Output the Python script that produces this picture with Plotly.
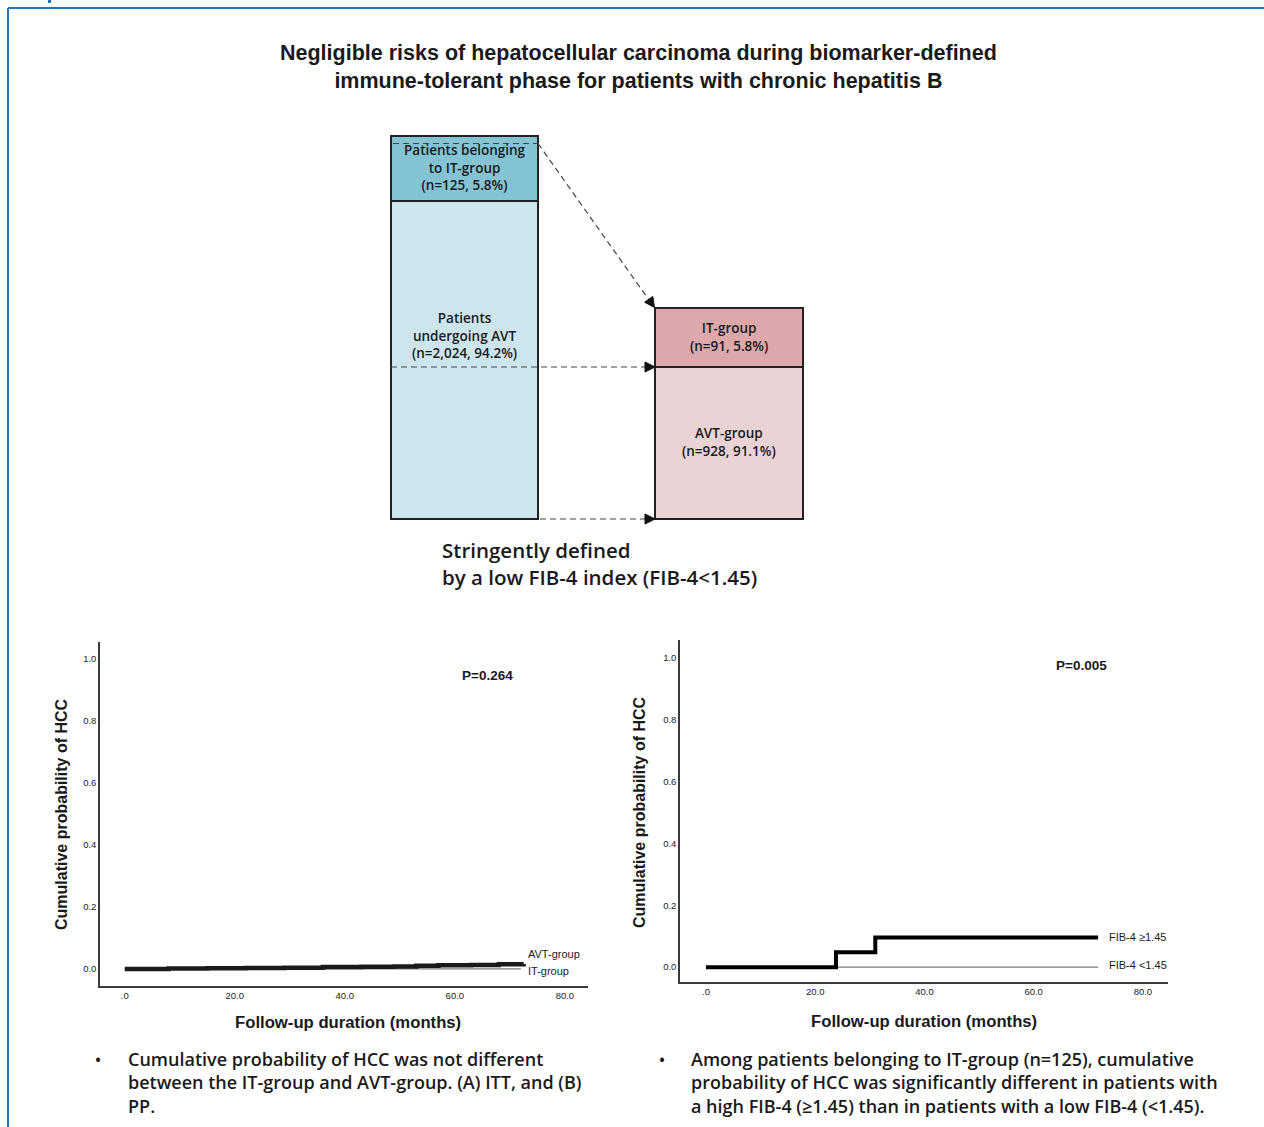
import plotly.graph_objects as go

W, H = 1264, 1127

# ---------------- text content ----------------
title_lines = [
    "Negligible risks of hepatocellular carcinoma during biomarker-defined",
    "immune-tolerant phase for patients with chronic hepatitis B",
]
subtitle_lines = ["Stringently defined", "by a low FIB-4 index (FIB-4<1.45)"]

# whole cohort split (left column) and the FIB-4 restricted split (right column)
cohort_labels = ["Patients belonging<br>to IT-group", "Patients<br>undergoing AVT"]
cohort_n = ["125", "2,024"]
cohort_pct = [5.8, 94.2]
fib4_labels = ["IT-group", "AVT-group"]
fib4_n = ["91", "928"]
fib4_pct = [5.8, 91.1]

# ---------------- Kaplan-Meier data ----------------
itt_months_avt = [0, 8, 15, 22, 29, 36, 43, 49, 53, 57, 63, 68, 72.5]
itt_cum_avt = [0.0, 0.001, 0.002, 0.003, 0.004, 0.006, 0.007, 0.008, 0.010, 0.012, 0.013, 0.015, 0.016]
itt_months_it = [0, 72.0]
itt_cum_it = [0.0, 0.0]
itt_p = "P=0.264"
itt_names = ["AVT-group", "IT-group"]

fib_months_high = [0, 23.8, 31.0, 71.8]
fib_cum_high = [0.0, 0.048, 0.096, 0.096]
fib_months_low = [0, 71.8]
fib_cum_low = [0.0, 0.0]
fib_p = "P=0.005"
fib_names = ["FIB-4 \u22651.45", "FIB-4 <1.45"]

x_tick_vals = [0, 20, 40, 60, 80]
x_tick_text = [".0", "20.0", "40.0", "60.0", "80.0"]
y_tick_vals = [0, 0.2, 0.4, 0.6, 0.8, 1.0]

bullet_left = [
    "Cumulative probability of HCC was not different",
    "between the IT-group and AVT-group. (A) ITT, and (B)",
    "PP.",
]
bullet_right = [
    "Among patients belonging to IT-group (n=125), cumulative",
    "probability of HCC was significantly different in patients with",
    "a high FIB-4 (\u22651.45) than in patients with a low FIB-4 (<1.45).",
]

# ---------------- styling ----------------
KOR = "Open Sans, Noto Sans, sans-serif"
ARIAL = "Liberation Sans, Arial, sans-serif"
NARROW = "Liberation Sans Narrow, Arial Narrow, Liberation Sans, sans-serif"
INK = "#1a1a1a"
BLUE_DARK, BLUE_LIGHT = "#84c3d3", "#cde6ee"
PINK_DARK, PINK_LIGHT = "#dca8ac", "#ead3d5"
FRAME = "#1f78b8"
DASH = "6px,4px"

fig = go.Figure()

# Kaplan-Meier curves: ITT comparison
fig.add_trace(go.Scatter(x=itt_months_it, y=itt_cum_it, mode="lines", line_shape="hv",
                         line=dict(color="#7a7a7a", width=1.2), xaxis="x2", yaxis="y2",
                         name=itt_names[1], hoverinfo="skip"))
fig.add_trace(go.Scatter(x=itt_months_avt, y=itt_cum_avt, mode="lines", line_shape="hv",
                         line=dict(color=INK, width=4.5), xaxis="x2", yaxis="y2",
                         name=itt_names[0], hoverinfo="skip"))
# Kaplan-Meier curves: FIB-4 strata
fig.add_trace(go.Scatter(x=fib_months_low, y=fib_cum_low, mode="lines", line_shape="hv",
                         line=dict(color="#7a7a7a", width=1.2), xaxis="x3", yaxis="y3",
                         name=fib_names[1], hoverinfo="skip"))
fig.add_trace(go.Scatter(x=fib_months_high, y=fib_cum_high, mode="lines", line_shape="hv",
                         line=dict(color="#000000", width=4), xaxis="x3", yaxis="y3",
                         name=fib_names[0], hoverinfo="skip"))

km_axis = dict(showgrid=False, zeroline=False, showline=True, linecolor="#3a3a3a",
               linewidth=1.5, ticks="", tickfont=dict(family=ARIAL, size=9.5, color="#222"),
               fixedrange=True)

shapes = []
annotations = []


def px_text(x, y, text, size, family=KOR, weight="normal", xanchor="center",
            yanchor="middle", align="center", angle=0, color=INK):
    annotations.append(dict(x=x, y=y, xref="x", yref="y", text=text, showarrow=False,
                            xanchor=xanchor, yanchor=yanchor, align=align, textangle=angle,
                            font=dict(family=family, size=size, color=color, weight=weight)))


def rect(x0, y0, x1, y1, fill):
    shapes.append(dict(type="rect", xref="x", yref="y", x0=x0, y0=y0, x1=x1, y1=y1,
                       fillcolor=fill, line=dict(color="#222", width=2), layer="below"))


def dline(x0, y0, x1, y1, color="#444", width=1.2):
    shapes.append(dict(type="line", xref="x", yref="y", x0=x0, y0=y0, x1=x1, y1=y1,
                       line=dict(color=color, width=width, dash=DASH)))


def head(tip, direction, length=10, half=5):
    dx, dy = direction
    n = (dx * dx + dy * dy) ** 0.5
    dx, dy = dx / n, dy / n
    bx, by = tip[0] - length * dx, tip[1] - length * dy
    px, py = -dy * half, dx * half
    path = f"M {tip[0]},{tip[1]} L {bx + px},{by + py} L {bx - px},{by - py} Z"
    shapes.append(dict(type="path", xref="x", yref="y", path=path,
                       fillcolor="#111", line=dict(color="#111", width=1)))


# outer frame
shapes.append(dict(type="line", xref="x", yref="y", x0=8, y0=8, x1=W, y1=8,
                   line=dict(color=FRAME, width=2)))
shapes.append(dict(type="line", xref="x", yref="y", x0=8, y0=8, x1=8, y1=H,
                   line=dict(color=FRAME, width=2)))
shapes.append(dict(type="rect", xref="x", yref="y", x0=48, y0=0, x1=51, y1=3,
                   fillcolor=FRAME, line=dict(width=0)))

# title
px_text(638, 67, "<br>".join(title_lines), 21.5, family=NARROW, weight="bold")

# cohort boxes
LX0, LX1, RX0, RX1 = 391, 538, 655, 803
TOP_L, MID_L, BOT = 136, 201, 519
TOP_R, MID_R = 308, 367
rect(LX0, TOP_L, LX1, MID_L, BLUE_DARK)
rect(LX0, MID_L, LX1, BOT, BLUE_LIGHT)
rect(RX0, TOP_R, RX1, MID_R, PINK_DARK)
rect(RX0, MID_R, RX1, BOT, PINK_LIGHT)

left_centres = [167, 335]
for lab, n, pct, yc in zip(cohort_labels, cohort_n, cohort_pct, left_centres):
    px_text((LX0 + LX1) / 2, yc, f"{lab}<br>(n={n}, {pct}%)", 13.5, weight=600)
right_centres = [337, 442]
for lab, n, pct, yc in zip(fib4_labels, fib4_n, fib4_pct, right_centres):
    px_text((RX0 + RX1) / 2, yc, f"{lab}<br>(n={n}, {pct}%)", 13.5, weight=600)

# connectors
dline(393, 143.5, LX1, 143.5)
dline(LX1, 143.5, 649, 300)
head((654.5, 307.5), (116, 164))
dline(LX0, MID_R, 646, MID_R)
head((655, MID_R), (1, 0))
dline(540, BOT, 646, BOT)
head((655, BOT), (1, 0))

px_text(440, 563, "<br>".join(subtitle_lines), 20.5, weight=600, xanchor="left", align="left")

# axis titles for the two survival panels
px_text(61, 814, "Cumulative probability of HCC", 16, family=ARIAL, weight="bold", angle=-90)
px_text(639, 812, "Cumulative probability of HCC", 16, family=ARIAL, weight="bold", angle=-90)
px_text(348, 1022, "Follow-up duration (months)", 16.7, family=ARIAL, weight="bold")
px_text(924, 1021, "Follow-up duration (months)", 16.7, family=ARIAL, weight="bold")

# curve labels and p values (data coordinates of each panel)
for ax, ay, t in [(73.0, 0.047, itt_names[0]), (73.0, -0.008, itt_names[1])]:
    annotations.append(dict(x=ax, y=ay, xref="x2", yref="y2", text=t, showarrow=False,
                            xanchor="left", font=dict(family=ARIAL, size=11, color=INK)))
annotations.append(dict(x=66, y=0.945, xref="x2", yref="y2", text=itt_p, showarrow=False,
                        font=dict(family=ARIAL, size=13.5, color=INK, weight="bold")))
for ax, ay, t in [(73.5, 0.099, fib_names[0]), (73.5, 0.006, fib_names[1])]:
    annotations.append(dict(x=ax, y=ay, xref="x3", yref="y3", text=t, showarrow=False,
                            xanchor="left", font=dict(family=ARIAL, size=11, color=INK)))
annotations.append(dict(x=68.8, y=0.977, xref="x3", yref="y3", text=fib_p, showarrow=False,
                        font=dict(family=ARIAL, size=13.5, color=INK, weight="bold")))

# bullet notes
for bx, tx, lines in [(98, 126, bullet_left), (662, 689, bullet_right)]:
    px_text(bx, 1060, "\u2022", 16, weight=600)
    px_text(tx, 1082.5, "<br>".join(lines), 18, weight=600, xanchor="left", align="left")

fig.update_layout(
    width=W, height=H, margin=dict(l=0, r=0, t=0, b=0, pad=0),
    paper_bgcolor="white", plot_bgcolor="rgba(0,0,0,0)", showlegend=False,
    xaxis=dict(domain=[0, 1], range=[0, W], visible=False, fixedrange=True),
    yaxis=dict(domain=[0, 1], range=[H, 0], visible=False, fixedrange=True),
    xaxis2=dict(km_axis, domain=[100 / W, 588 / W], range=[-4.5, 84.2], anchor="y2",
                tickvals=x_tick_vals, ticktext=x_tick_text),
    yaxis2=dict(km_axis, domain=[1 - 986 / H, 1 - 642 / H], range=[-0.055, 1.053], anchor="x2",
                tickvals=y_tick_vals, tickformat=".1f"),
    xaxis3=dict(km_axis, domain=[680 / W, 1168 / W], range=[-4.76, 84.6], anchor="y3",
                tickvals=x_tick_vals, ticktext=x_tick_text),
    yaxis3=dict(km_axis, domain=[1 - 982 / H, 1 - 640 / H], range=[-0.048, 1.058], anchor="x3",
                tickvals=y_tick_vals, tickformat=".1f"),
    shapes=shapes, annotations=annotations,
)

fig.write_html("out.html")
